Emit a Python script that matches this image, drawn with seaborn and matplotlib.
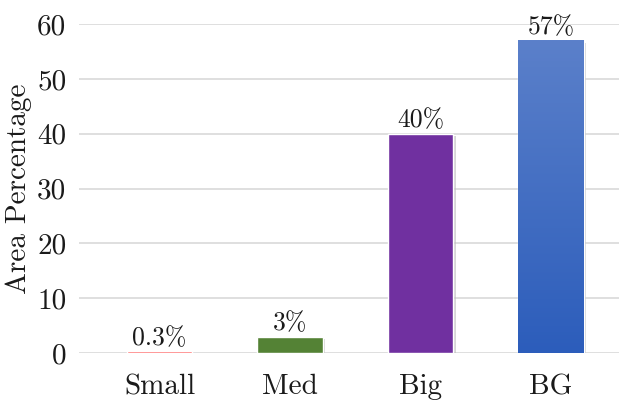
import matplotlib
matplotlib.use("Agg")
import matplotlib.pyplot as plt
import matplotlib.patheffects as pe
import seaborn as sns
import numpy as np
import pandas as pd

categories = ["Small", "Med", "Big", "BG"]
values = [0.3, 3, 40, 57]
labels = ["0.3%", "3%", "40%", "57%"]
colors = ["#ff5c5c", "#548235", "#7030a0", "#4a72c4"]
yticks = [0, 10, 20, 30, 40, 50, 60]

sns.set_theme(style="white")
plt.rcParams["font.family"] = ["cmr10", "DejaVu Serif"]
plt.rcParams["mathtext.fontset"] = "cm"
plt.rcParams["axes.unicode_minus"] = False
plt.rcParams["axes.formatter.use_mathtext"] = True

df = pd.DataFrame({"cat": categories, "val": values})

fig = plt.figure(figsize=(6.19, 4.09), dpi=100)
ax = fig.add_axes([79/619, 1 - 353/409, 540/619, (353-24)/409])

sns.barplot(data=df, x="cat", y="val", hue="cat", palette=colors, width=0.505,
            ax=ax, legend=False, saturation=1, zorder=3)
for p in ax.patches:
    p.set_path_effects([pe.SimplePatchShadow(offset=(1.5, -1.5), shadow_rgbFace="#bbbbbb", alpha=0.6), pe.Normal()])

# gradient on BG bar
bg_patch = ax.patches[3]
x0, y0 = bg_patch.get_x(), bg_patch.get_y()
w, h = bg_patch.get_width(), bg_patch.get_height()
top = np.array(matplotlib.colors.to_rgb("#5b80ca"))
bot = np.array(matplotlib.colors.to_rgb("#2c5dbb"))
t = np.linspace(0, 1, 256)[:, None]
grad = (bot * (1 - t) + top * t)[:, None, :]
im = ax.imshow(grad, extent=[x0, x0 + w, y0, y0 + h], origin="lower",
               aspect="auto", zorder=4)
im.set_clip_path(bg_patch)

for i, (v, lab) in enumerate(zip(values, labels)):
    ax.text(i, v + 0.3, lab, ha="center", va="bottom", fontsize=18.5,
            color="#1a1a1a", zorder=5)

ax.set_xlim(-0.617, 3.521)
ax.set_ylim(0, 60)
ax.set_yticks(yticks)
ax.set_yticklabels([str(y) for y in yticks])
ax.yaxis.grid(True, color="#d9d9d9", linewidth=1.2, zorder=0)
ax.set_axisbelow(True)
for s in ax.spines.values():
    s.set_visible(False)
ax.tick_params(axis="y", labelsize=21, pad=9, length=0, colors="#1a1a1a")
ax.tick_params(axis="x", labelsize=21, pad=15, length=0, colors="#1a1a1a")
ax.set_xlabel("")
ax.set_ylabel("")
fig.text(19/619, 1 - 189/409, "Area Percentage", rotation=90, ha="center",
         va="center", fontsize=21, color="#1a1a1a")

fig.savefig("out.png", dpi=100)
